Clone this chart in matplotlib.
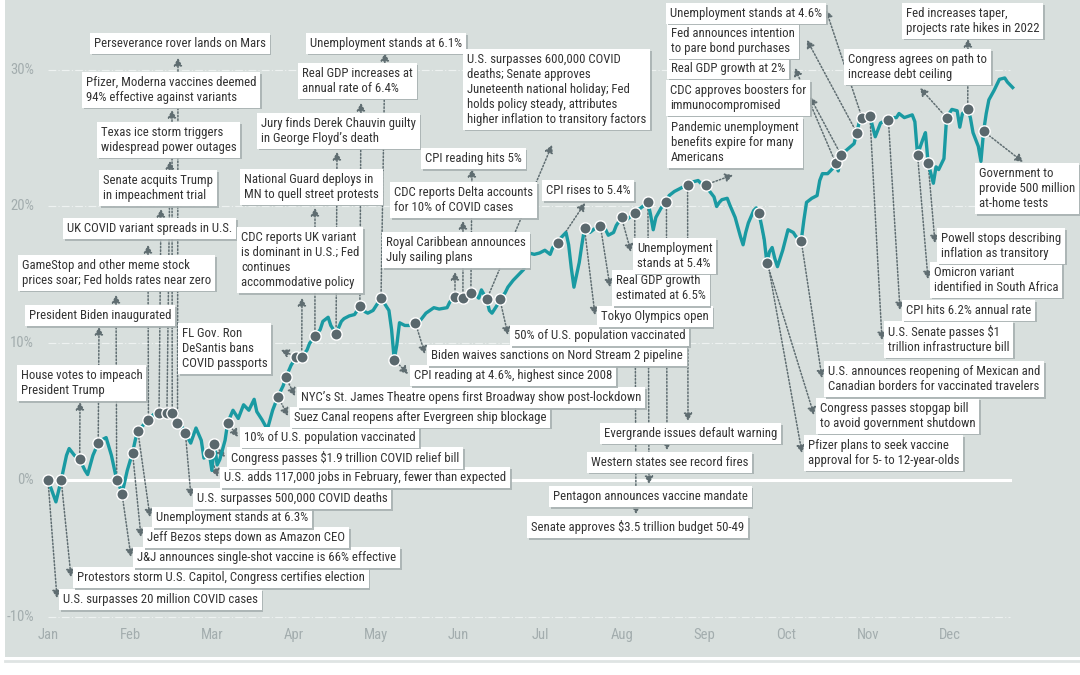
import numpy as np
import matplotlib
matplotlib.use("Agg")
import matplotlib.pyplot as plt
from matplotlib.patches import Rectangle
import matplotlib.patheffects as pe

plt.rcParams['font.family'] = ['Liberation Sans Narrow', 'Roboto Condensed', 'Roboto', 'DejaVu Sans']

# S&P 500 total return, 2021 (days since Jan 1, YTD return in %)
days = [0, 3, 5, 7, 8, 10, 12, 14, 15, 17, 19, 20, 22, 24, 26, 27, 28, 30, 32, 33,
        34, 36, 38, 40, 42, 43, 45, 47, 48, 49, 51, 52, 54, 56, 58, 59, 61, 62, 63, 64,
        65, 67, 68, 70, 72, 74, 76, 78, 79, 81, 83, 85, 87, 89, 90, 92, 94, 96, 98, 99,
        101, 103, 104, 106, 107, 109, 111, 112, 114, 116, 118, 120, 121, 123, 124, 126, 127, 129, 130, 131,
        132, 133, 135, 137, 139, 141, 143, 146, 148, 151, 152, 154, 156, 157, 159, 160, 162, 163, 164, 166,
        167, 168, 170, 171, 173, 174, 176, 178, 180, 181, 182, 184, 186, 188, 190, 191, 193, 194, 196, 197,
        198, 199, 201, 202, 203, 205, 207, 209, 211, 212, 214, 215, 217, 218, 220, 222, 223, 225, 227, 228,
        229, 230, 232, 234, 235, 237, 238, 240, 242, 244, 246, 247, 249, 250, 252, 253, 254, 255, 257, 258,
        260, 262, 263, 264, 265, 267, 268, 269, 270, 271, 272, 273, 274, 275, 276, 278, 280, 282, 283, 285,
        286, 287, 289, 291, 292, 293, 295, 297, 298, 299, 300, 302, 305, 306, 307, 308, 310, 311, 313, 315,
        316, 318, 320, 321, 322, 324, 327, 328, 329, 331, 332, 333, 335, 336, 337, 339, 340, 342, 344, 345,
        346, 348, 349, 350, 352, 353, 354, 355, 356, 358, 360, 362, 363, 365]
ytd_return = [0.0, -1.6, 0.0, 1.8, 2.3, 1.8, 1.5, 0.7, 0.4, 1.8, 2.7, 2.9, 3.1, 1.8, 0.0, -0.4, -1.0, 0.7, 2.0, 2.9,
              3.6, 4.0, 4.4, 4.8, 4.9, 5.0, 4.9, 4.9, 4.5, 4.2, 3.8, 3.4, 2.7, 3.8, 2.9, 1.6, 2.0, 0.7, 2.6, 1.1,
              1.5, 2.9, 4.2, 5.1, 4.5, 5.5, 5.1, 5.9, 5.0, 4.4, 3.7, 5.1, 6.1, 6.9, 7.5, 8.4, 9.0, 9.0, 9.5, 10.0,
              10.5, 11.0, 11.6, 11.9, 11.3, 10.7, 11.6, 11.8, 12.0, 12.1, 12.7, 12.3, 12.2, 12.4, 12.7, 13.3, 13.0, 12.4, 11.0, 8.8,
              9.9, 11.5, 11.3, 11.3, 11.5, 11.7, 12.2, 12.6, 12.5, 12.6, 13.0, 13.4, 13.2, 13.3, 13.4, 13.7, 13.5, 13.3, 13.9, 13.2,
              12.4, 12.2, 12.8, 13.2, 13.7, 14.1, 14.6, 15.0, 15.4, 16.1, 16.6, 16.5, 16.6, 16.8, 16.5, 17.0, 17.3, 17.7, 18.1, 17.2,
              15.5, 14.1, 15.9, 17.2, 18.4, 18.1, 18.4, 18.6, 18.3, 17.9, 18.1, 18.6, 19.2, 18.9, 19.2, 19.5, 19.7, 20.0, 20.3, 19.4,
              18.3, 19.2, 19.9, 20.3, 20.8, 21.1, 21.2, 21.4, 21.6, 21.8, 21.9, 21.7, 21.6, 21.2, 20.7, 20.0, 20.3, 20.5, 20.6, 20.1,
              19.2, 17.8, 17.2, 18.1, 18.8, 19.7, 19.9, 19.5, 18.6, 17.6, 15.9, 16.7, 17.0, 16.2, 15.6, 16.8, 18.3, 18.1, 17.8, 17.5,
              19.0, 20.3, 20.6, 20.8, 21.9, 22.4, 22.4, 22.8, 23.2, 22.6, 23.8, 24.1, 24.6, 25.4, 26.2, 26.5, 26.7, 26.6, 25.1, 26.1,
              26.2, 26.3, 26.5, 26.5, 26.8, 26.5, 26.7, 26.2, 23.8, 24.9, 25.4, 23.2, 21.7, 22.9, 22.7, 23.5, 26.5, 27.1, 27.0, 25.8,
              26.8, 27.1, 26.5, 25.4, 24.4, 23.3, 25.5, 26.8, 27.8, 28.5, 29.3, 29.4, 29.1, 28.7]

months = ['Jan', 'Feb', 'Mar', 'Apr', 'May', 'Jun', 'Jul', 'Aug', 'Sep', 'Oct', 'Nov', 'Dec']
y_ticks = [30, 20, 10, 0, -10]

event_days = [0, 5, 12, 19, 26, 28, 32, 34, 38, 42, 45, 47, 49, 52, 61, 63, 68, 87, 90, 94,
              96, 101, 109, 118, 126, 131, 139, 154, 157, 160, 166, 171, 193, 203, 209, 217, 222, 227, 234, 242,
              249, 269, 272, 285, 298, 300, 306, 308, 311, 318, 329, 333, 340, 348, 354]
event_labels = [
    "U.S. surpasses 20 million COVID cases",
    "Protestors storm U.S. Capitol, Congress certifies election",
    "House votes to impeach\nPresident Trump",
    "President Biden inaugurated",
    "GameStop and other meme stock\nprices soar; Fed holds rates near zero",
    "J&J announces single-shot vaccine is 66% effective",
    "Jeff Bezos steps down as Amazon CEO",
    "Unemployment stands at 6.3%",
    "UK COVID variant spreads in U.S.",
    "Senate acquits Trump\nin impeachment trial",
    "Texas ice storm triggers\nwidespread power outages",
    "Pfizer, Moderna vaccines deemed\n94% effective against variants",
    "Perseverance rover lands on Mars",
    "U.S. surpasses 500,000 COVID deaths",
    "U.S. adds 117,000 jobs in February, fewer than expected",
    "Congress passes $1.9 trillion COVID relief bill",
    "10% of U.S. population vaccinated",
    "Suez Canal reopens after Evergreen ship blockage",
    "NYC\u2019s St. James Theatre opens first Broadway show post-lockdown",
    "FL Gov. Ron\nDeSantis bans\nCOVID passports",
    "CDC reports UK variant\nis dominant in U.S.; Fed\ncontinues\naccommodative policy",
    "National Guard deploys in\nMN to quell street protests",
    "Jury finds Derek Chauvin guilty\nin George Floyd\u2019s death",
    "Real GDP increases at\nannual rate of 6.4%",
    "Unemployment stands at 6.1%",
    "CPI reading at 4.6%, highest since 2008",
    "Biden waives sanctions on Nord Stream 2 pipeline",
    "Royal Caribbean announces\nJuly sailing plans",
    "CDC reports Delta accounts\nfor 10% of COVID cases",
    "CPI reading hits 5%",
    "U.S. surpasses 600,000 COVID\ndeaths; Senate approves\nJuneteenth national holiday; Fed\nholds policy steady, attributes\nhigher inflation to transitory factors",
    "50% of U.S. population vaccinated",
    "CPI rises to 5.4%",
    "Tokyo Olympics open",
    "Real GDP growth\nestimated at 6.5%",
    "Unemployment\nstands at 5.4%",
    "Senate approves $3.5 trillion budget 50-49",
    "Pentagon announces vaccine mandate",
    "Western states see record fires",
    "Evergrande issues default warning",
    "Pandemic unemployment\nbenefits expire for many\nAmericans",
    "Pfizer plans to seek vaccine\napproval for 5- to 12-year-olds",
    "Congress passes stopgap bill\nto avoid government shutdown",
    "U.S. announces reopening of Mexican and\nCanadian borders for vaccinated travelers",
    "Real GDP growth at 2%",
    "CDC approves boosters for\nimmunocompromised",
    "Fed announces intention\nto pare bond purchases",
    "Unemployment stands at 4.6%",
    "U.S. Senate passes $1\ntrillion infrastructure bill",
    "CPI hits 6.2% annual rate",
    "Omicron variant\nidentified in South Africa",
    "Powell stops describing\ninflation as transitory",
    "Congress agrees on path to\nincrease debt ceiling",
    "Fed increases taper,\nprojects rate hikes in 2022",
    "Government to\nprovide 500 million\nat-home tests",
]

# layout: box left, box top, arrow tip x, arrow tip y (image pixels, from top-left)
box_layout = [
    (59, 589, 57, 598), (73, 567, 71, 577), (17, 365, 80, 402), (25, 305, 99, 327),
    (18, 255, 116, 295), (133, 547, 131, 557), (143, 527, 141, 537), (152, 507, 150, 517),
    (63, 218, 148, 245), (99, 170, 161, 209), (97, 122, 170, 161), (82, 72, 172, 110),
    (90, 33, 178, 58), (193, 488, 191, 497), (220, 467, 218, 477), (227, 447, 225, 457),
    (240, 427, 238, 437), (290, 407, 288, 416), (297, 387, 295, 396), (178, 323, 281, 350),
    (237, 227, 302, 298), (240, 169, 315, 208), (257, 113, 337, 152), (298, 63, 361, 103),
    (306, 33, 385, 53), (410, 365, 408, 374), (427, 345, 425, 354), (382, 232, 455, 272),
    (390, 182, 463, 221), (421, 148, 472, 169), (463, 49, 552, 145), (510, 325, 508, 335),
    (542, 180, 585, 203), (597, 306, 595, 315), (612, 270, 610, 287), (633, 238, 631, 252),
    (527, 516, 636, 514), (549, 486, 649, 484), (587, 452, 667, 450), (600, 423, 688, 421),
    (667, 117, 733, 175), (804, 435, 802, 453), (816, 398, 814, 415), (824, 361, 822, 378),
    (667, 58, 795, 68), (666, 80, 810, 97), (667, 23, 807, 40), (666, 3, 826, 10),
    (884, 321, 882, 340), (902, 300, 900, 310), (930, 262, 928, 279), (937, 228, 935, 243),
    (844, 49, 920, 88), (902, 3, 968, 39), (975, 163, 1023, 162),
]

W, H = 1080, 675
teal = '#1a9aa2'
dot_col = '#5a686d'
bg = '#d8dfdd'
txt_col = '#333333'
lab_col = '#a3adae'


def fig_xy(px, py):
    return px / W, 1 - py / H


fig = plt.figure(figsize=(10.8, 6.75), dpi=100)
ax = fig.add_axes([0, 0, 1, 1])
ax.set_xlim(-18.16, 390.48)
ax.set_ylim(-14.26, 35.10)
ax.axis('off')

ax.add_patch(Rectangle(fig_xy(5, 657), 1075 / W, 657 / H, transform=fig.transFigure,
                       facecolor=bg, edgecolor='none', zorder=0))
ax.plot([5 / W, 1], [1 - 661 / H] * 2, transform=fig.transFigure, color='#dfe4e3', lw=2, zorder=0)

# grid
for v in y_ticks:
    if v == 0:
        ax.plot([0, 364], [0, 0], color='white', lw=2.2, zorder=1)
    else:
        ax.plot([0, 364], [v, v], color='#eef2f1', lw=0.8, ls=(0, (7, 2, 1, 2)), zorder=1)
    ax.text(-5.3, v, f'{v}%', ha='right', va='center', fontsize=10.5, color=lab_col)

month_pos = np.arange(12) * 31.03
for m, x in zip(months, month_pos):
    ax.text(x, -11.35, m, ha='center', va='center', fontsize=10.5, color=lab_col)

ax.plot(days, ytd_return, color=teal, lw=2.4, zorder=3, solid_joinstyle='round')

ev_y = np.interp(event_days, days, ytd_return)

for d, yv, label, (bl, bt, tx, ty) in zip(event_days, ev_y, event_labels, box_layout):
    ax.annotate('', xy=fig_xy(tx, ty), xycoords='figure fraction', xytext=(d, yv), textcoords='data',
                arrowprops=dict(arrowstyle='-|>,head_length=0.45,head_width=0.25', color='#5f6d71',
                                lw=1.1, ls=(0, (1, 1.3)), shrinkA=0, shrinkB=0), zorder=2)
    t = ax.text(*fig_xy(bl + 4, bt + 4), label, transform=fig.transFigure, ha='left', va='top',
                fontsize=9.2, color=txt_col, linespacing=1.2, zorder=6,
                bbox=dict(boxstyle='square,pad=0.3', fc='white', ec='none'))
    t.get_bbox_patch().set_path_effects([pe.SimplePatchShadow(offset=(1.2, -1.2), shadow_rgbFace='#a9b2b2', alpha=0.9),
                                         pe.Normal()])

ax.scatter(event_days, ev_y, s=66, color=dot_col, edgecolor='white', linewidth=1.0, zorder=4)

fig.savefig('out.png', dpi=100, facecolor='white')
